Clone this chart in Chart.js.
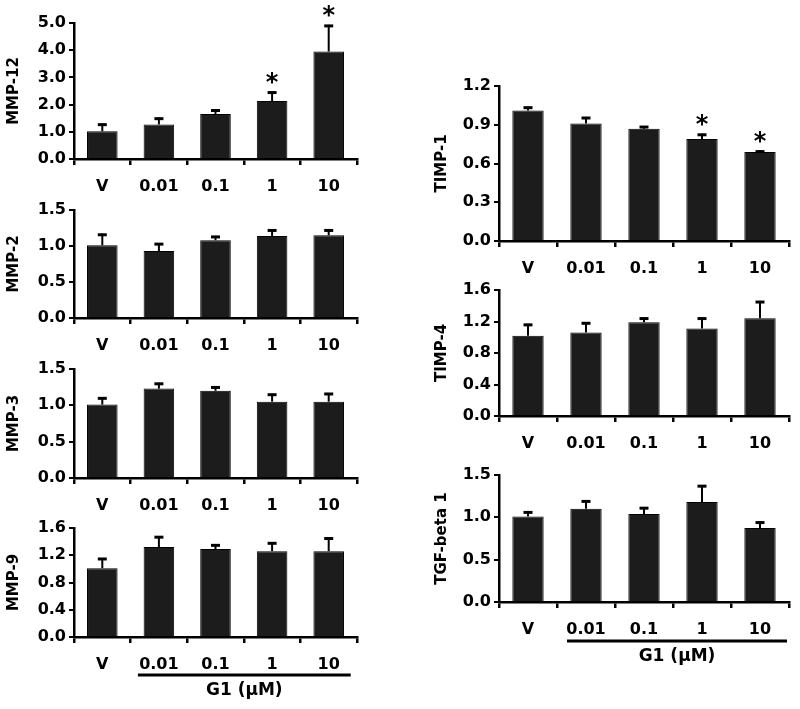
<!DOCTYPE html>
<html>
<head>
<meta charset="utf-8">
<script src="https://cdn.jsdelivr.net/npm/chart.js@4.4.0/dist/chart.umd.min.js"></script>
<style>
  body { margin: 0; background: #fff; }
  #fig { position: relative; width: 800px; height: 709px; }
  #fig canvas { position: absolute; }
</style>
</head>
<body>
<div id="fig"></div>
<script>
// doses of G1 (uM), V = vehicle
var categories = ['V', '0.01', '0.1', '1', '10'];

// fold change vs vehicle, mean and upper error
var mmp12 = [1.02, 1.27, 1.65, 2.13, 3.95];
var mmp12Err = [0.28, 0.25, 0.17, 0.35, 0.98];
var mmp12Star = [0, 0, 0, 1, 1];

var mmp2 = [1.01, 0.93, 1.08, 1.14, 1.15];
var mmp2Err = [0.16, 0.11, 0.06, 0.09, 0.08];

var mmp3 = [1.01, 1.23, 1.20, 1.05, 1.05];
var mmp3Err = [0.10, 0.08, 0.06, 0.11, 0.12];

var mmp9 = [1.01, 1.32, 1.29, 1.26, 1.26];
var mmp9Err = [0.15, 0.16, 0.07, 0.13, 0.20];

var timp1 = [1.01, 0.91, 0.87, 0.79, 0.69];
var timp1Err = [0.03, 0.05, 0.02, 0.04, 0.01];
var timp1Star = [0, 0, 0, 1, 1];

var timp4 = [1.02, 1.06, 1.19, 1.11, 1.24];
var timp4Err = [0.15, 0.13, 0.06, 0.14, 0.22];

var tgfb1 = [1.01, 1.10, 1.04, 1.18, 0.875];
var tgfb1Err = [0.06, 0.10, 0.08, 0.20, 0.075];

var noStar = [0, 0, 0, 0, 0];

// y axis ticks (max, step) per panel
var mmp12Ticks = [5, 1];
var mmp2Ticks = [1.5, 0.5];
var mmp3Ticks = [1.5, 0.5];
var mmp9Ticks = [1.6, 0.4];
var timp1Ticks = [1.2, 0.3];
var timp4Ticks = [1.6, 0.4];
var tgfb1Ticks = [1.5, 0.5];

var groupLabel = 'G1 (\u03bcM)';

// ---------------- layout ----------------
var FONT = 'DejaVu Sans';
var columns = [
  { left: 0, w: 363, yw: 74, titlePad: 5 },
  { left: 420, w: 375, yw: 79, titlePad: 13 }
];

var panels = [
  { name: 'MMP-12', values: mmp12, errors: mmp12Err, stars: mmp12Star, ticks: mmp12Ticks, col: 0, top: 23, bottom: 159 },
  { name: 'MMP-2', values: mmp2, errors: mmp2Err, stars: noStar, ticks: mmp2Ticks, col: 0, top: 210, bottom: 318 },
  { name: 'MMP-3', values: mmp3, errors: mmp3Err, stars: noStar, ticks: mmp3Ticks, col: 0, top: 369, bottom: 478 },
  { name: 'MMP-9', values: mmp9, errors: mmp9Err, stars: noStar, ticks: mmp9Ticks, col: 0, top: 528, bottom: 637,
    group: { from: -21, to: 22, lineY: 38 } },
  { name: 'TIMP-1', values: timp1, errors: timp1Err, stars: timp1Star, ticks: timp1Ticks, col: 1, top: 86, bottom: 241 },
  { name: 'TIMP-4', values: timp4, errors: timp4Err, stars: noStar, ticks: timp4Ticks, col: 1, top: 290, bottom: 416 },
  { name: 'TGF-beta 1', values: tgfb1, errors: tgfb1Err, stars: noStar, ticks: tgfb1Ticks, col: 1, top: 475, bottom: 602,
    group: { from: -19, to: 27, lineY: 39 } }
];

// error bars (upper only) and significance stars
var errorBars = {
  id: 'errorBars',
  afterDatasetsDraw: function (chart) {
    var ctx = chart.ctx;
    var ds = chart.data.datasets[0];
    var meta = chart.getDatasetMeta(0);
    var y = chart.scales.y;
    ctx.save();
    ctx.strokeStyle = '#000';
    ctx.fillStyle = '#000';
    meta.data.forEach(function (bar, i) {
      var top = y.getPixelForValue(ds.data[i] + ds.errors[i]);
      ctx.lineWidth = 2;
      ctx.beginPath();
      ctx.moveTo(bar.x, bar.y);
      ctx.lineTo(bar.x, top);
      ctx.stroke();
      ctx.lineWidth = 3;
      ctx.beginPath();
      ctx.moveTo(bar.x - 4.5, top + 1);
      ctx.lineTo(bar.x + 4.5, top + 1);
      ctx.stroke();
      if (ds.stars[i]) {
        ctx.font = 'bold 24px "' + FONT + '"';
        ctx.textAlign = 'center';
        ctx.textBaseline = 'alphabetic';
        ctx.fillText('*', bar.x, top - 2);
      }
    });
    ctx.restore();
  }
};

// underline for the G1 doses
var groupLine = {
  id: 'groupLine',
  afterDraw: function (chart, args, opts) {
    if (!opts || opts.from === undefined) return;
    var ctx = chart.ctx;
    var x = chart.scales.x;
    var x1 = x.getPixelForValue(1) + opts.from;
    var x2 = x.getPixelForValue(4) + opts.to;
    var ly = x.top + opts.lineY;
    ctx.save();
    ctx.strokeStyle = '#000';
    ctx.lineWidth = 3;
    ctx.beginPath();
    ctx.moveTo(x1, ly);
    ctx.lineTo(x2, ly);
    ctx.stroke();
    ctx.fillStyle = '#000';
    ctx.font = 'bold 17px "' + FONT + '"';
    ctx.textAlign = 'center';
    ctx.textBaseline = 'middle';
    ctx.fillText(groupLabel, (x1 + x2) / 2, ly + 16);
    ctx.restore();
  }
};

var fig = document.getElementById('fig');

panels.forEach(function (p) {
  var col = columns[p.col];
  var pt = 20;
  var xh = p.group ? 72 : 40;
  var canvas = document.createElement('canvas');
  canvas.width = col.w;
  canvas.height = pt + (p.bottom - p.top) + xh;
  canvas.style.left = col.left + 'px';
  canvas.style.top = (p.top - pt) + 'px';
  fig.appendChild(canvas);

  var tickFont = { family: FONT, weight: 'bold', size: 16 };

  new Chart(canvas, {
    type: 'bar',
    data: {
      labels: categories,
      datasets: [{
        data: p.values,
        errors: p.errors,
        stars: p.stars,
        backgroundColor: '#1c1c1c',
        borderColor: '#000',
        borderWidth: 1,
        barPercentage: 0.54,
        categoryPercentage: 1
      }]
    },
    options: {
      responsive: false,
      animation: false,
      layout: { padding: { top: pt, right: 6, bottom: 0, left: 0 } },
      plugins: {
        legend: { display: false },
        tooltip: { enabled: false },
        groupLine: p.group || {}
      },
      scales: {
        x: {
          grid: { drawOnChartArea: false, drawTicks: true, tickLength: 6, lineWidth: 2.5, color: '#000' },
          border: { display: true, color: '#000', width: 2.5 },
          ticks: { color: '#000', font: tickFont, padding: 12, maxRotation: 0, autoSkip: false },
          afterFit: function (s) { s.height = xh; }
        },
        y: {
          min: 0,
          max: p.ticks[0],
          ticks: {
            stepSize: p.ticks[1],
            color: '#000',
            font: tickFont,
            padding: 3,
            callback: function (v) { return Number(v).toFixed(1); }
          },
          grid: { drawOnChartArea: false, drawTicks: true, tickLength: 5, lineWidth: 2, color: '#000' },
          border: { display: true, color: '#000', width: 2.5 },
          title: {
            display: true,
            text: p.name,
            color: '#000',
            font: { family: FONT, weight: 'bold', size: 15 },
            padding: { top: col.titlePad, bottom: 0 }
          },
          afterFit: function (s) { s.width = col.yw; }
        }
      }
    },
    plugins: [errorBars, groupLine]
  });
});
</script>
</body>
</html>
